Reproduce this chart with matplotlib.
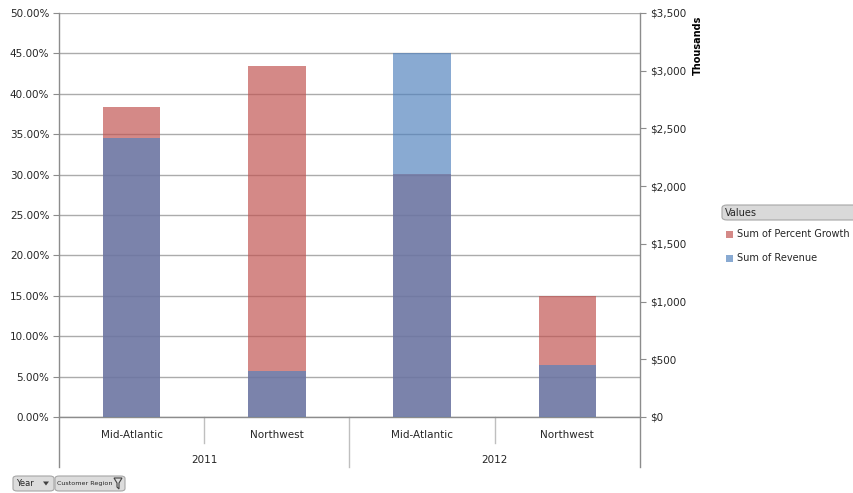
import numpy as np
import matplotlib
matplotlib.use('Agg')
import matplotlib.pyplot as plt
from matplotlib.patches import FancyBboxPatch, Rectangle, Polygon
from matplotlib.ticker import FuncFormatter, MultipleLocator

regions = ['Mid-Atlantic', 'Northwest', 'Mid-Atlantic', 'Northwest']
years = ['2011', '2012']
pct_growth = [0.384, 0.434, 0.301, 0.150]
revenue = [2415000, 398000, 3155000, 450000]

red = '#C0504D'
blue = '#4F81BD'
alpha = 0.67
grid_c = '#ABABAB'
txt_c = '#262626'

fig = plt.figure(figsize=(8.54, 4.93), dpi=100)
W, H = 854, 493
ax = fig.add_axes([59 / W, 1 - 417 / H, (640 - 59) / W, (417 - 13) / H])
ax2 = ax.twinx()

x = np.arange(len(regions))
bw = 0.395
ax.bar(x, pct_growth, width=bw, color=red, alpha=alpha, zorder=2)
ax2.bar(x, np.array(revenue) / 1000, width=bw, color=blue, alpha=alpha, zorder=2)

ax.set_xlim(-0.5, len(regions) - 0.5)
ax.set_ylim(0, 0.5)
ax2.set_ylim(0, 3500)
ax.yaxis.set_major_locator(MultipleLocator(0.05))
ax2.yaxis.set_major_locator(MultipleLocator(500))
ax.yaxis.set_major_formatter(FuncFormatter(lambda v, p: f'{v * 100:.2f}%'))
ax2.yaxis.set_major_formatter(FuncFormatter(lambda v, p: f'${v:,.0f}'))

for t in np.arange(0, 0.501, 0.05):
    ax.axhline(t, color=grid_c, lw=1, zorder=0)

for a in (ax, ax2):
    for s in a.spines.values():
        s.set_visible(False)
    a.tick_params(axis='y', length=4, color='#8C8C8C', labelsize=7.5,
                  labelcolor=txt_c, pad=3)
ax.tick_params(axis='x', length=0, labelbottom=False)
ax2.tick_params(axis='x', length=0)

# axis lines drawn through the label area
for xv in (-0.5, len(regions) - 0.5):
    ax.plot([xv, xv], [1.0, -0.124], transform=ax.get_xaxis_transform(),
            color='#8C8C8C', lw=1, clip_on=False, zorder=3)
ax.plot([-0.5, len(regions) - 0.5], [0, 0], color='#8C8C8C', lw=1, zorder=3, clip_on=False)

# multi-level category axis
tr = ax.get_xaxis_transform()
for i, r in enumerate(regions):
    ax.text(i, -0.045, r, transform=tr, ha='center', va='center',
            fontsize=7.5, color=txt_c)
for b in (0.5, 2.5):
    ax.plot([b, b], [0, -0.064], transform=tr, color='#BFBFBF', lw=1, clip_on=False)
ax.plot([1.5, 1.5], [0, -0.124], transform=tr, color='#BFBFBF', lw=1, clip_on=False)
for j, y in enumerate(years):
    ax.text(2 * j + 0.5, -0.107, y, transform=tr, ha='center', va='center',
            fontsize=7.5, color=txt_c)

fig.text(698 / W, 1 - 45 / H, 'Thousands', rotation=90, ha='center', va='center',
         fontsize=7, fontweight='bold', color='black')

# legend
fig.patches.append(FancyBboxPatch((722 / W, 1 - 220 / H), 140 / W, 15 / H,
                                  boxstyle='round,pad=0,rounding_size=0.006',
                                  transform=fig.transFigure, fc='#D9D9D9', ec='#A6A6A6', lw=0.8))
fig.text(725 / W, 1 - 212.5 / H, 'Values', ha='left', va='center', fontsize=7, color=txt_c)
legend_items = [('Sum of Percent Growth', red, 234), ('Sum of Revenue', blue, 258)]
for label, c, yy in legend_items:
    fig.patches.append(Rectangle((726 / W, 1 - (yy + 3.5) / H), 7 / W, 7 / H,
                                 transform=fig.transFigure, fc=c, alpha=alpha, ec='none'))
    fig.text(737 / W, 1 - yy / H, label, ha='left', va='center', fontsize=7, color=txt_c)

# field buttons
fig.patches.append(FancyBboxPatch((13 / W, 1 - 491 / H), 41 / W, 15 / H,
                                  boxstyle='round,pad=0,rounding_size=0.005',
                                  transform=fig.transFigure, fc='#DCDCDC', ec='#A6A6A6', lw=0.8))
fig.text(16 / W, 1 - 483.5 / H, 'Year', ha='left', va='center', fontsize=6,
         color=txt_c)
fig.patches.append(Polygon([(43 / W, 1 - 481.5 / H), (49 / W, 1 - 481.5 / H), (46 / W, 1 - 485.5 / H)],
                           closed=True, transform=fig.transFigure, fc='#404040', ec='none'))
fig.patches.append(FancyBboxPatch((55 / W, 1 - 491 / H), 70 / W, 15 / H,
                                  boxstyle='round,pad=0,rounding_size=0.005',
                                  transform=fig.transFigure, fc='#DCDCDC', ec='#A6A6A6', lw=0.8))
fig.text(57 / W, 1 - 483.5 / H, 'Customer Region', ha='left', va='center', fontsize=4.6,
         color=txt_c)
fig.patches.append(Polygon([(114 / W, 1 - 478 / H), (122 / W, 1 - 478 / H), (119 / W, 1 - 483 / H),
                            (119 / W, 1 - 489 / H), (117 / W, 1 - 487 / H), (117 / W, 1 - 483 / H)],
                           closed=True, transform=fig.transFigure, fc='none', ec='#404040', lw=0.8))

fig.savefig('out.png', dpi=100, facecolor='white')
